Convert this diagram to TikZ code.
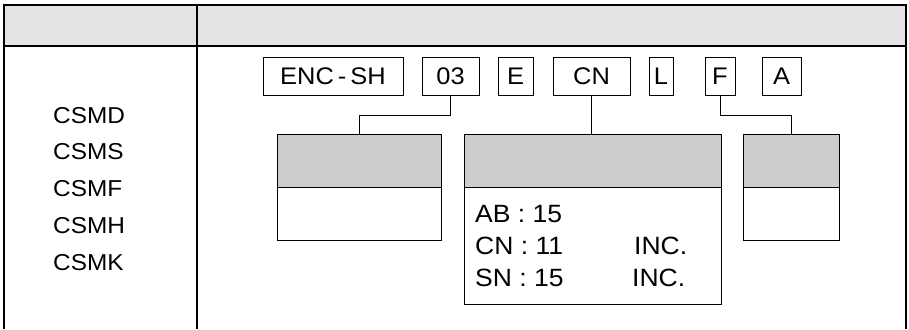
\documentclass[tikz,border=0pt]{standalone}
\usepackage{fontspec}
\setmainfont{Liberation Sans}[FakeStretch=1.06]
\usepackage{xcolor}
\usepackage{tikz}
\usetikzlibrary{positioning}
\definecolor{headgray}{HTML}{E4E4E4}
\definecolor{boxgray}{HTML}{CCCCCC}

\begin{document}
\begin{tikzpicture}[
    x=1pt, y=-1pt, font=\fontsize{23}{27}\selectfont,
    code/.style={rectangle, draw, line width=1pt, inner sep=0pt, outer sep=0pt,
                 minimum height=38pt, font=\fontsize{24}{28}\selectfont},
    head/.style={rectangle, draw, line width=1pt, inner sep=0pt, outer sep=0pt,
                 fill=boxgray, minimum height=53pt},
    body/.style={rectangle, draw, line width=1pt, inner sep=0pt, outer sep=0pt},
    txt/.style={inner sep=0pt, anchor=base west},
    frame/.style={line width=2pt},
    link/.style={line width=1pt}
]
\useasboundingbox (0,0) rectangle (909,329);

% Table frame with grey header row
\fill[headgray] (4,5) rectangle (906,46);
\draw[frame] (4,329) -- (4,5) -- (906,5) -- (906,329);
\draw[frame] (4,46) -- (906,46);
\draw[frame] (197,5) -- (197,329);

% Left column: model list
\foreach \lbl [count=\i] in {CSMD,CSMS,CSMF,CSMH,CSMK}
  \node[txt] (csm\i) at (53,{123+36.75*(\i-1)}) {\lbl};

% Top row: type code fields
\node[code, minimum width=140pt] (enc) at (333,76.5)   {ENC\,-\,SH};
\node[code, minimum width=57pt]  (num) at (450.5,76.5) {03};
\node[code, minimum width=35pt]  (e)   at (515.5,76.5) {E};
\node[code, minimum width=77pt]  (cn)  at (591.5,76.5) {CN};
\node[code, minimum width=24pt]  (l)   at (661,76.5)   {L};
\node[code, minimum width=30pt]  (f)   at (720,76.5)   {F};
\node[code, minimum width=39pt]  (a)   at (781.5,76.5) {A};

% Bottom row: explanation boxes
\node[head, minimum width=164pt] (lhead) at (359,160.5) {};
\node[body, minimum width=164pt, minimum height=53pt, anchor=north] (lbody) at (lhead.south) {};
\node[head, minimum width=257pt] (mhead) at (592.5,160.5) {};
\node[body, minimum width=257pt, minimum height=117pt, anchor=north] (mbody) at (mhead.south) {};
\node[head, minimum width=96pt] (rhead) at (791,160.5) {};
\node[body, minimum width=96pt, minimum height=53pt, anchor=north] (rbody) at (rhead.south) {};

% Resolution entries
\begin{scope}[font=\fontsize{25}{29}\selectfont]
\node[txt] (ab)   at (475,222)   {AB : 15};
\node[txt] (cnr)  at (475,254.5) {CN : 11};
\node[txt] (snr)  at (475,286)   {SN : 15};
\node[txt] (inc1) at (634,254.5) {INC.};
\node[txt] (inc2) at (632,286)   {INC.};
\end{scope}

% Links from the code fields
\draw[link] (num.south) -- ++(0,20) -| (lhead.north);
\draw[link] (cn.south) -- (cn.south |- mhead.north);
\draw[link] (f.south) -- ++(0,20) -| (rhead.north);
\end{tikzpicture}
\end{document}
